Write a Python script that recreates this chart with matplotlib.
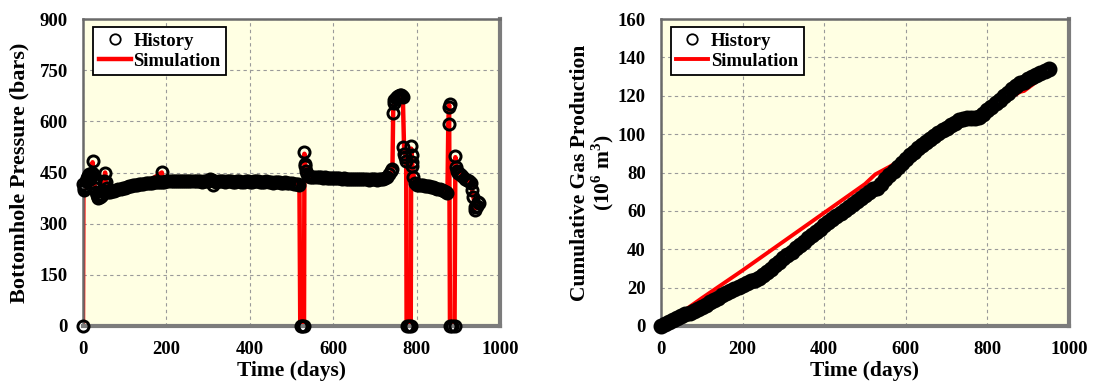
import numpy as np
import matplotlib
matplotlib.use("Agg")
import matplotlib.pyplot as plt

plt.rcParams['font.family'] = ['Liberation Serif', 'DejaVu Serif']
plt.rcParams['font.weight'] = 'bold'
plt.rcParams['axes.labelweight'] = 'bold'
plt.rcParams['mathtext.fontset'] = 'custom'
plt.rcParams['mathtext.rm'] = 'Liberation Serif:bold'
plt.rcParams['mathtext.bf'] = 'Liberation Serif:bold'

# ---- bottomhole pressure: observed history (days, bars)
bhp_days = [0, 1, 2, 3, 5, 7, 9, 11, 13, 15, 17, 19, 21, 23, 25, 27, 29, 31, 33, 35,
            37, 40, 43, 46, 49, 51, 53, 55, 57, 60,
            65, 70, 75, 80, 85, 90, 95, 100, 105, 110, 115, 120, 125, 130, 135, 140,
            145, 150, 155, 160, 165, 170, 175, 180, 185, 189, 190, 195, 200, 205, 210,
            215, 220, 225, 230, 235, 240, 245, 250, 255, 260, 265, 270, 275, 280, 285,
            290, 295, 300, 305, 310, 312, 315, 320, 325, 330, 335, 340, 345, 350, 355,
            360, 365, 370, 375, 380, 385, 390, 395, 400, 405, 410, 415, 420, 425, 430,
            435, 440, 445, 450, 455, 460, 465, 470, 475, 480, 485, 490, 495, 500, 505,
            510, 515, 519, 522, 526, 530,
            531, 532, 533, 535, 538, 541, 545, 550, 555, 560, 565, 570, 575, 580, 585,
            590, 595, 600, 605, 610, 615, 620, 625, 630, 635, 640, 645, 650, 655, 660,
            665, 670, 675, 680, 685, 690, 695, 700, 705, 710, 715, 720, 725, 730, 735,
            738, 741,
            744, 745, 747, 750, 753, 756, 759, 762, 765, 767,
            768, 770, 772, 774, 776, 781, 786,
            787, 788, 789, 790, 792, 795, 800, 805, 810, 815, 820, 825, 830, 835, 840,
            845, 850, 855, 860, 865, 870, 874,
            877, 878, 879, 881, 886, 891,
            893, 894, 896, 900, 905, 910, 915, 920, 925, 930, 933, 936, 939, 941, 944,
            947, 950]
bhp_hist = [0, 415, 405, 398, 410, 425, 435, 440, 428, 445, 432, 440, 450, 484, 447, 420,
            405, 392, 383, 378, 375, 378, 380, 384, 395, 425, 450, 421, 405, 392,
            393, 395, 397, 399, 401, 403, 405, 406, 408, 409, 410, 412, 413, 414, 415,
            416, 417, 418, 419, 419, 420, 421, 421, 422, 422, 452, 423, 423, 424, 424,
            425, 425, 424, 425, 426, 425, 424, 425, 426, 425, 424, 425, 426, 425, 424,
            423, 425, 426, 425, 430, 427, 413, 424, 423, 425, 426, 424, 423, 425, 426,
            424, 422, 423, 425, 424, 423, 422, 424, 425, 423, 422, 424, 426, 425, 423,
            421, 422, 424, 423, 421, 420, 422, 423, 421, 420, 419, 421, 420, 418, 419,
            417, 416, 415, 412, 0, 0, 0,
            510, 476, 470, 455, 445, 440, 438, 437, 438, 437, 436, 436, 435, 436, 435,
            434, 435, 434, 433, 434, 433, 432, 433, 432, 431, 432, 431, 432, 431, 430,
            431, 430, 431, 430, 429, 430, 431, 430, 429, 430, 431, 432, 434, 437, 445,
            455, 459,
            625, 655, 662, 668, 672, 674, 676, 676, 675, 672,
            525, 505, 495, 485, 0, 0, 0,
            528, 500, 482, 470, 437, 418, 413, 414, 412, 413, 411, 410, 409, 408, 407,
            405, 403, 401, 399, 397, 394, 390,
            592, 641, 652, 0, 0, 0,
            498, 467, 455, 448, 445, 440, 432, 428, 425, 420, 400, 379, 350, 340, 352,
            364, 360]

# ---- bottomhole pressure: simulated response
sim_days = [0, 1, 5, 10, 15, 20, 23, 26, 30, 35, 45, 50, 53, 56, 60, 100, 150, 189,
            192, 250, 300, 400, 500, 519, 521, 530, 531, 533, 540, 600, 700, 735,
            742, 744, 750, 765, 767, 770, 775, 776, 786, 787, 790, 795, 800, 850,
            874, 876, 878, 880, 891, 893, 896, 910, 930, 936, 941, 947, 950]
sim_bhp = [0, 400, 415, 430, 440, 445, 480, 430, 395, 380, 385, 420, 450, 410, 392,
           406, 418, 450, 422, 425, 425, 424, 419, 414, 0, 0, 505, 470, 440, 435, 432,
           440, 455, 640, 668, 676, 672, 520, 490, 0, 0, 520, 470, 420, 413, 403, 392,
           590, 648, 0, 0, 495, 460, 440, 420, 380, 345, 362, 360]

# ---- cumulative gas production (10^6 m3), history sampled every 10 days
gas_days = np.arange(0, 951, 10)
gas_hist = [0.0, 1.0, 2.0, 3.0, 4.0, 5.0, 6.0, 7.0, 8.0, 9.0, 10.0, 11.2, 12.4, 13.6,
            14.8, 16.0, 17.1, 18.2, 19.2, 20.3, 21.4, 22.3, 23.2, 24.1, 25.2, 26.6,
            28.1, 29.8, 31.6, 33.4, 35.2, 37.0, 38.8, 40.6, 42.3, 44.0, 45.7, 47.4,
            49.1, 50.8, 52.4, 54.0, 55.6, 57.2, 58.8, 60.4, 62.0, 63.6, 65.2, 66.8,
            68.4, 70.0, 71.5, 72.0, 74.2, 76.4, 78.6, 80.8, 83.0, 85.0, 87.0, 88.9,
            90.8, 92.6, 94.3, 96.0, 97.6, 99.1, 100.6, 102.0, 103.4, 104.7, 106.0,
            107.2, 108.0, 108.2, 108.3, 108.5, 109.0, 110.7, 112.5, 114.3, 116.1,
            117.9, 119.7, 121.5, 123.3, 125.1, 126.8, 127.4, 128.5, 129.6, 130.7,
            131.8, 132.9, 134.0]

sim_gas_days = [0, 10, 50, 100, 200, 300, 400, 500, 525, 560, 600, 650, 700, 740,
                780, 800, 850, 880, 890, 950]
sim_gas = [0, 1.5, 7, 14.5, 29, 44, 59, 74, 79, 83, 88, 96, 103, 107, 107.5, 110,
           118, 122, 122.5, 132]

W, H = 1093, 386
fig = plt.figure(figsize=(W / 100, H / 100), dpi=100)
ax1 = fig.add_axes([83 / W, 60 / H, 417 / W, 307 / H])
ax2 = fig.add_axes([661 / W, 60 / H, 408 / W, 307 / H])


def style_axes(ax):
    ax.set_facecolor('#ffffe3')
    ax.grid(True, color='#9a9a9a', linestyle=(0, (3, 3)), linewidth=0.8)
    ax.set_axisbelow(True)
    ax.tick_params(length=0, labelsize=13.5, pad=11)
    for lbl in ax.get_xticklabels() + ax.get_yticklabels():
        lbl.set_fontweight('bold')
    for side in ['top', 'left']:
        ax.spines[side].set_color('#6a6a6a')
        ax.spines[side].set_linewidth(1.8)
    for side in ['right', 'bottom']:
        ax.spines[side].set_color('#7c7c7c')
        ax.spines[side].set_linewidth(3)
    ax.set_xlim(0, 1000)
    ax.set_xticks(range(0, 1001, 200))
    ax.set_xlabel('Time (days)', fontsize=15.5, fontweight='bold', labelpad=2)


def add_legend(ax, handles, labels):
    leg = ax.legend(handles, labels, loc='upper left', bbox_to_anchor=(0.024, 0.974),
                    borderaxespad=0, fancybox=False, framealpha=1, edgecolor='black',
                    prop={'size': 13.5, 'weight': 'bold'},
                    handlelength=1.7, handletextpad=0.15, borderpad=0.3,
                    labelspacing=0.15)
    leg.get_frame().set_linewidth(1.3)
    leg.legend_handles[0].set_markeredgewidth(1.3)
    leg.legend_handles[0].set_markersize(7.5)
    return leg


# left: bottomhole pressure
style_axes(ax1)
sim1, = ax1.plot(sim_days, sim_bhp, color='red', lw=3.2, zorder=2)
hist1, = ax1.plot(bhp_days, bhp_hist, linestyle='none', marker='o', ms=8,
                  mfc='none', mec='black', mew=2.1, zorder=3, clip_on=False)
ax1.set_ylim(0, 900)
ax1.set_yticks(range(0, 901, 150))
ax1.set_ylabel('Bottomhole Pressure (bars)', fontsize=16, fontweight='bold',
               labelpad=7)
add_legend(ax1, [hist1, sim1], ['History', 'Simulation'])

# right: cumulative gas production
style_axes(ax2)
sim2, = ax2.plot(sim_gas_days, sim_gas, color='red', lw=2.8, zorder=2)
hist2, = ax2.plot(gas_days, gas_hist, linestyle='none', marker='o', ms=7.5,
                  mfc='none', mec='black', mew=4, zorder=3, clip_on=False)
ax2.set_ylim(0, 160)
ax2.set_yticks(range(0, 161, 20))
ax2.set_ylabel('Cumulative Gas Production\n(10$^{6}$ m$^{3}$)', fontsize=15.5,
               fontweight='bold', labelpad=1, linespacing=1.0)
add_legend(ax2, [hist2, sim2], ['History', 'Simulation'])

fig.savefig('out.png', dpi=100)
